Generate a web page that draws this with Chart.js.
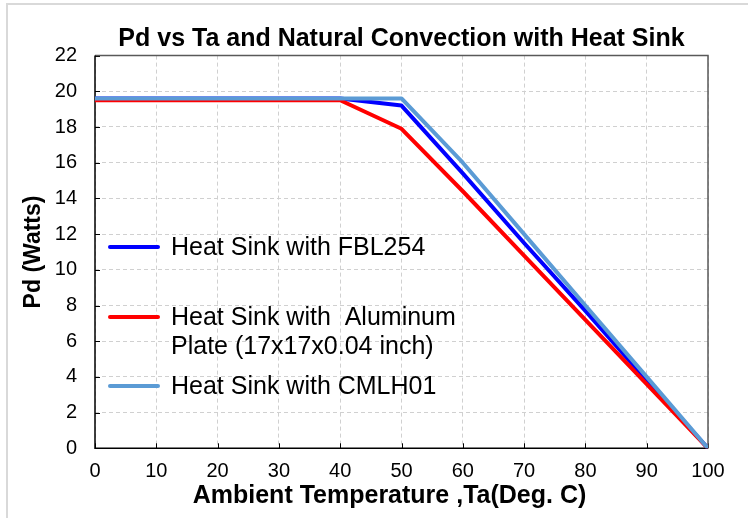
<!DOCTYPE html>
<html>
<head>
<meta charset="utf-8">
<script src="https://cdn.jsdelivr.net/npm/chart.js@4.4.1/dist/chart.umd.min.js"></script>
<style>
  html, body { margin: 0; padding: 0; background: #ffffff; }
  #wrap { position: relative; width: 748px; height: 518px; overflow: hidden; background: #ffffff; }
  #frame { position: absolute; left: 6px; top: 3px; width: 900px; height: 700px; border-left: 2px solid #d9d9d9; border-top: 2px solid #d9d9d9; }
  #c { position: absolute; left: 0; top: 0; }
  .lg { position: absolute; font-family: "Liberation Sans", Arial, sans-serif; font-size: 25px; line-height: 29px; color: #000; white-space: nowrap; }
  .sw { position: absolute; left: 108px; width: 52px; height: 4px; border-radius: 2px; }
</style>
</head>
<body>
<div id="wrap">
  <div id="frame"></div>
  <canvas id="c" width="748" height="518"></canvas>
  <div id="legend"></div>
</div>
<script>
// ---- data ----
const temps      = [0, 10, 20, 30, 40, 50, 60, 70, 80, 90, 100];
const fbl254     = [19.6, 19.6, 19.6, 19.6, 19.6, 19.2, 15.4, 11.5, 7.7, 3.8, 0];
const aluminum   = [19.5, 19.5, 19.5, 19.5, 19.5, 17.9, 14.4, 10.8, 7.2, 3.6, 0];
const cmlh01     = [19.6, 19.6, 19.6, 19.6, 19.6, 19.6, 16.0, 12.0, 8.0, 4.0, 0];
const seriesNames = ["Heat Sink with FBL254", ["Heat Sink with  Aluminum", "Plate (17x17x0.04 inch)"], "Heat Sink with CMLH01"];
const seriesColors = ["#0000FF", "#FF0000", "#5B9BD5"];
const xTickStep = 10, yTickStep = 2, yMax = 22, xMax = 100;
const chartTitle = "Pd vs Ta and Natural Convection with Heat Sink";
const xTitle = "Ambient Temperature ,Ta(Deg. C)";
const yTitle = "Pd (Watts)";

const FONT = '"Liberation Sans", Arial, sans-serif';
const pts = arr => temps.map((t, i) => ({x: t, y: arr[i]}));

const framePlugin = {
  id: 'framePlugin',
  beforeDatasetsDraw(chart) {
    const {ctx, chartArea: a, scales} = chart;
    ctx.save();
    // inside tick marks
    ctx.strokeStyle = '#000'; ctx.lineWidth = 1;
    ctx.beginPath();
    scales.x.ticks.forEach(t => {
      const px = Math.round(scales.x.getPixelForValue(t.value)) + 0.5;
      ctx.moveTo(px, a.bottom); ctx.lineTo(px, a.bottom - 5);
    });
    scales.y.ticks.forEach(t => {
      const py = Math.round(scales.y.getPixelForValue(t.value)) + 0.5;
      ctx.moveTo(a.left, py); ctx.lineTo(a.left + 5, py);
    });
    ctx.stroke();
    // frame
    ctx.lineWidth = 1.5;
    ctx.strokeStyle = '#595959';
    ctx.beginPath();
    ctx.moveTo(a.left, a.top); ctx.lineTo(a.right, a.top); ctx.lineTo(a.right, a.bottom);
    ctx.stroke();
    ctx.strokeStyle = '#000';
    ctx.beginPath();
    ctx.moveTo(a.left, a.top); ctx.lineTo(a.left, a.bottom); ctx.lineTo(a.right, a.bottom);
    ctx.stroke();
    ctx.restore();
  },
  afterDraw(chart) {
    // x axis title, placed slightly left of the plot centre as in the reference
    const {ctx, chartArea: a} = chart;
    ctx.save();
    ctx.font = 'bold 25px ' + FONT;
    ctx.fillStyle = '#000';
    ctx.textAlign = 'center';
    ctx.textBaseline = 'middle';
    ctx.fillText(xTitle, (a.left + a.right) / 2 - 12, 496);
    ctx.restore();
  }
};

const chart = new Chart(document.getElementById('c'), {
  type: 'line',
  data: {
    datasets: [
      { label: "Heat Sink with FBL254", data: pts(fbl254), borderColor: seriesColors[0], order: 3 },
      { label: "Heat Sink with  Aluminum Plate (17x17x0.04 inch)", data: pts(aluminum), borderColor: seriesColors[1], order: 2 },
      { label: "Heat Sink with CMLH01", data: pts(cmlh01), borderColor: seriesColors[2], order: 1 }
    ]
  },
  options: {
    responsive: false,
    animation: false,
    devicePixelRatio: 1,
    elements: { point: { radius: 0 }, line: { borderWidth: 4, tension: 0, borderCapStyle: 'round', borderJoinStyle: 'round' } },
    layout: { padding: { left: 0, right: 40, top: 0, bottom: 0 } },
    plugins: {
      legend: { display: false },
      tooltip: { enabled: false },
      title: {
        display: true, text: chartTitle, color: '#000', fullSize: false,
        font: { family: FONT, size: 25, weight: 'bold', lineHeight: 1.2 },
        padding: { top: 24, bottom: 1.6 }
      }
    },
    scales: {
      x: {
        type: 'linear', min: 0, max: xMax,
        afterFit(s) { s.height = 69.7; },
        ticks: { stepSize: xTickStep, color: '#000', padding: 11, maxRotation: 0, font: { family: FONT, size: 20 } },
        grid: { color: '#d0d0d0', lineWidth: 1, drawTicks: false },
        border: { display: false, dash: [4, 3] },
        title: { display: false, text: xTitle }
      },
      y: {
        type: 'linear', min: 0, max: yMax,
        afterFit(s) { s.width = 95; },
        ticks: { stepSize: yTickStep, color: '#000', padding: 18, font: { family: FONT, size: 20 } },
        grid: { color: '#d0d0d0', lineWidth: 1, drawTicks: false },
        border: { display: false, dash: [4, 3] },
        title: { display: true, text: yTitle, color: '#000', padding: { top: 20, bottom: 0 }, font: { family: FONT, size: 23, weight: 'bold', lineHeight: 1.2 } }
      }
    }
  },
  plugins: [framePlugin]
});

// HTML legend placed inside the plot area
const legendTops = [231.8, 301.8, 370.8];
const swatchCenters = [246.7, 316.7, 385.7];
const lg = document.getElementById('legend');
seriesNames.forEach((name, i) => {
  const sw = document.createElement('div');
  sw.className = 'sw';
  sw.style.top = (swatchCenters[i] - 2) + 'px';
  sw.style.background = seriesColors[i];
  lg.appendChild(sw);
  const tx = document.createElement('div');
  tx.className = 'lg';
  tx.style.left = '171px';
  tx.style.top = legendTops[i] + 'px';
  tx.innerHTML = (Array.isArray(name) ? name : [name]).map(s => s.replace(/  /g, ' &nbsp;')).join('<br>');
  lg.appendChild(tx);
});
</script>
</body>
</html>
